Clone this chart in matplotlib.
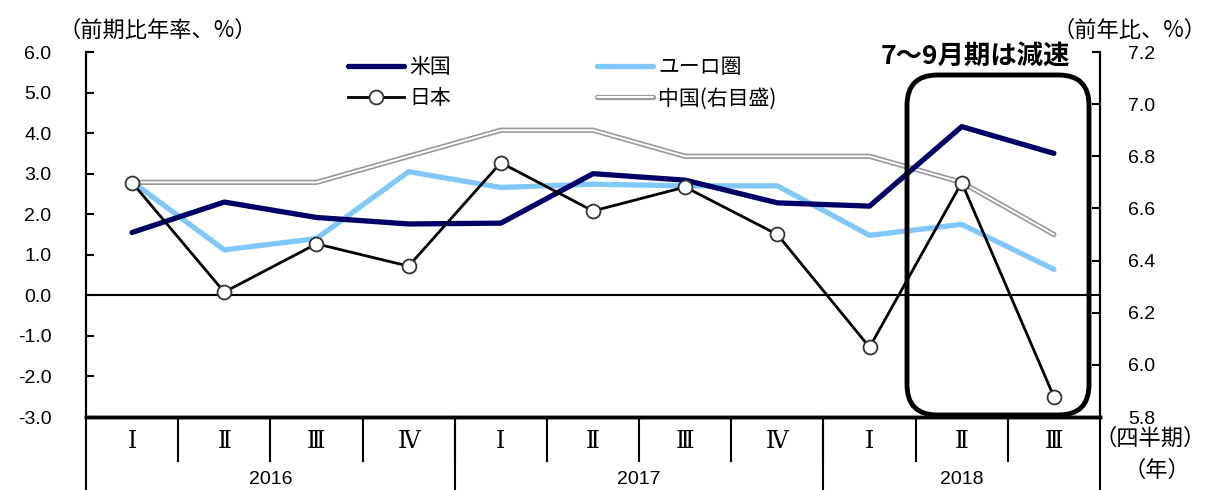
import matplotlib
matplotlib.use("Agg")
import matplotlib.pyplot as plt
from matplotlib.lines import Line2D
from matplotlib.patches import FancyBboxPatch
import matplotlib.patheffects as pe
from matplotlib.ticker import FixedLocator

plt.rcParams['font.family'] = ['Noto Sans CJK JP', 'DejaVu Sans']

quarters = ["Ⅰ", "Ⅱ", "Ⅲ", "Ⅳ", "Ⅰ", "Ⅱ", "Ⅲ", "Ⅳ", "Ⅰ", "Ⅱ", "Ⅲ"]
years = ["2016", "2017", "2018"]
year_quarters = [4, 4, 3]

us = [1.55, 2.3, 1.92, 1.76, 1.78, 3.0, 2.84, 2.28, 2.2, 4.16, 3.5]
euro = [2.8, 1.12, 1.4, 3.05, 2.66, 2.74, 2.7, 2.7, 1.48, 1.75, 0.64]
japan = [2.78, 0.08, 1.27, 0.72, 3.27, 2.08, 2.67, 1.5, -1.28, 2.78, -2.5]
china = [6.7, 6.7, 6.7, 6.8, 6.9, 6.9, 6.8, 6.8, 6.8, 6.7, 6.5]

left_ticks = [-3.0, -2.0, -1.0, 0.0, 1.0, 2.0, 3.0, 4.0, 5.0, 6.0]
right_ticks = [5.8, 6.0, 6.2, 6.4, 6.6, 6.8, 7.0, 7.2]

NAVY = "#000066"
LBLUE = "#80C8FA"
GRAY = "#999999"

W, H = 1206, 490
fig = plt.figure(figsize=(W / 100, H / 100), dpi=100)
ax = fig.add_axes([86 / W, 1 - 417 / H, (1100 - 86) / W, (417 - 52) / H])
ax2 = ax.twinx()
ax.set_zorder(ax2.get_zorder() + 1)
ax.patch.set_visible(False)

x = list(range(len(quarters)))

double = [pe.Stroke(linewidth=3.8, foreground=GRAY), pe.Normal()]

# China on right axis (double line)
ax2.plot(x, china, color="white", lw=1.4, solid_capstyle='round', path_effects=double, zorder=2)

ax.plot(x, euro, color=LBLUE, lw=3.8, solid_capstyle='round', zorder=3)
ax.plot(x, us, color=NAVY, lw=3.8, solid_capstyle='round', zorder=4)
ax.plot(x, japan, color="black", lw=2.0, marker='o', ms=10, mfc='white',
        mec='#333333', mew=1.3, zorder=5)

ax.axhline(0, color='black', lw=1.5, zorder=1)

ax.set_xlim(-0.5, len(quarters) - 0.5)
ax.set_ylim(-3.0, 6.0)
ax2.set_ylim(5.8, 7.2)
ax.yaxis.set_major_locator(FixedLocator(left_ticks))
ax2.yaxis.set_major_locator(FixedLocator(right_ticks))
ax.set_yticklabels([f"{v:.1f}" for v in left_ticks], fontsize=14, family=['Liberation Sans'])
ax2.set_yticklabels([f"{v:.1f}" for v in right_ticks], fontsize=14, family=['Liberation Sans'])
ax.tick_params(axis='y', direction='in', length=6, width=1.5, pad=25)
ax2.tick_params(axis='y', direction='in', length=6, width=1.5, pad=20)
ax.set_xticks([])
ax2.set_xticks([])

for a in (ax, ax2):
    a.spines['top'].set_visible(False)
    a.spines['left'].set_linewidth(1.5)
    a.spines['right'].set_linewidth(1.5)
    a.spines['bottom'].set_linewidth(2.5)

# Category axis: quarters and years
sep_short = -(461 - 417) / (417 - 52)
sep_long = -(490 - 417) / (417 - 52)
trans = ax.get_xaxis_transform()
for i, q in enumerate(quarters):
    ax.text(i, -0.068, q, transform=trans, ha='center', va='center',
            fontsize=17, family=['DejaVu Serif'], clip_on=False)
    if i > 0:
        ax.plot([i - 0.5, i - 0.5], [0, sep_short], transform=trans, color='black',
                lw=1.5, clip_on=False)
start = 0
ax.plot([-0.5, -0.5], [0, sep_long], transform=trans, color='black', lw=1.5, clip_on=False)
for yr, n in zip(years, year_quarters):
    end = start + n
    ax.text((start + end - 1) / 2, -0.17, yr, transform=trans, ha='center', va='center',
            fontsize=14, family=['Liberation Sans'], clip_on=False)
    ax.plot([end - 0.5, end - 0.5], [0, sep_long], transform=trans, color='black',
            lw=1.5, clip_on=False)
    start = end

# Axis titles
fig.text(58 / W, 1 - 30 / H, "（前期比年率、%）", fontsize=16, va='center', ha='left')
fig.text(1206 / W, 1 - 30 / H, "（前年比、%）", fontsize=16, va='center', ha='right')
fig.text(1206 / W, 1 - 438 / H, "（四半期）", fontsize=16, va='center', ha='right')
fig.text(1190 / W, 1 - 470 / H, "（年）", fontsize=16, va='center', ha='right')

# Annotation box
box_w = (1089 - 907) / (1100 - 86)
box_h = (415 - 75) / (417 - 52)
box = FancyBboxPatch(((907 - 86) / (1100 - 86), (417 - 415) / (417 - 52)), box_w, box_h,
                     boxstyle="round,pad=0,rounding_size=0.03",
                     mutation_aspect=(1100 - 86) / (417 - 52),
                     transform=ax.transAxes, fill=False, ec='black', lw=3.5,
                     clip_on=False, zorder=6)
ax.add_patch(box)
fig.text(975 / W, 1 - 56 / H, "7～9月期は減速", fontsize=19, fontweight='bold',
         va='center', ha='center')

# Legend
h_us = Line2D([], [], color=NAVY, lw=3.8, solid_capstyle='round')
h_jp = Line2D([], [], color='black', lw=2.0, marker='o', ms=10, mfc='white', mec='#333333', mew=1.3)
h_eu = Line2D([], [], color=LBLUE, lw=3.8, solid_capstyle='round')
h_cn = Line2D([], [], color='white', lw=1.4, solid_capstyle='round', path_effects=double)
leg = fig.legend([h_us, h_jp, h_eu, h_cn], ["米国", "日本", "ユーロ圏", "中国(右目盛)"],
                 ncol=2, loc='upper left', bbox_to_anchor=(348 / W, 1 - 56 / H),
                 frameon=False, fontsize=15, handlelength=2.7, handletextpad=0.25,
                 columnspacing=7.0, labelspacing=0.45, borderpad=0, borderaxespad=0)

fig.savefig("out.png", dpi=100)
